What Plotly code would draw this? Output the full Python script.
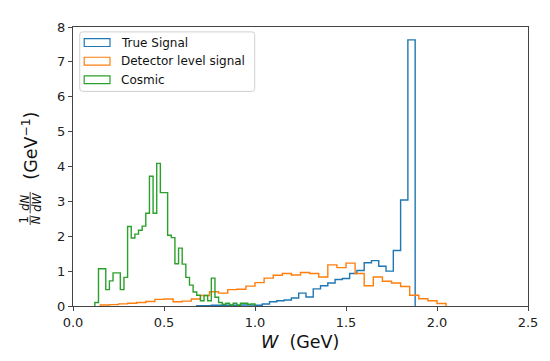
import numpy as np
import plotly.graph_objects as go

# ---------------- data ----------------
series_names = ["True Signal", "Detector level signal", "Cosmic"]
series_colors = ["#1f77b4", "#ff7f0e", "#2ca02c"]

# True signal: 30 bins of width 0.04 starting at 0.68 GeV
true_start, true_width = 0.68, 0.04
true_vals = [0.01, 0.01, 0.02, 0.02, 0.02, 0.02, 0.03, 0.03, 0.02, 0.056,
             0.12, 0.15, 0.17, 0.23, 0.37, 0.26, 0.49, 0.58, 0.66, 0.76,
             0.79, 0.93, 1.02, 1.24, 1.30, 1.14, 1.00, 1.59, 3.04, 7.63]

# Detector level signal: 38 bins of width 0.05 starting at 0.15 GeV
det_start, det_width = 0.15, 0.05
det_vals = [0.03, 0.04, 0.06, 0.08, 0.10, 0.13, 0.19, 0.20, 0.12, 0.14,
            0.20, 0.30, 0.41, 0.37, 0.47, 0.48, 0.57, 0.67, 0.80, 0.88,
            0.93, 0.89, 0.96, 0.93, 0.83, 1.18, 1.10, 1.23, 0.93, 0.58,
            0.83, 0.71, 0.66, 0.56, 0.31, 0.21, 0.15, 0.07]

# Cosmic: 44 bins of width 0.02 starting at 0.12 GeV
cos_start, cos_width = 0.12, 0.02
cos_vals = [0.10, 1.07, 1.07, 0.47, 0.72, 0.95, 0.95, 0.47, 0.82, 2.28,
            1.95, 2.06, 2.17, 2.29, 2.66, 3.72, 2.66, 4.09, 3.25, 3.25,
            2.03, 1.96, 1.21, 1.66, 1.20, 0.82, 0.60, 0.40, 0.31, 0.15,
            0.30, 0.15, 0.80, 0.25, 0.10, 0.05, 0.08, 0.03, 0.08, 0.02,
            0.08, 0.08, 0.05, 0.06]

x_ticks = [0.0, 0.5, 1.0, 1.5, 2.0, 2.5]
x_tick_labels = ["0.0", "0.5", "1.0", "1.5", "2.0", "2.5"]
y_ticks = [0, 1, 2, 3, 4, 5, 6, 7, 8]
y_tick_labels = [str(v) for v in y_ticks]


def step_xy(start, width, vals):
    n = len(vals)
    edges = start + width * np.arange(n + 1)
    xs = [edges[0]] + list(edges[:n]) + [edges[n]]
    ys = [0.0] + list(vals) + [0.0]
    return xs, ys


# ---------------- layout geometry ----------------
# The page body has an 8px margin, so the figure is placed at (8, 8).
OFF = 8
W_PX, H_PX = 550 - OFF, 361 - OFF
# plot area in page pixels: x 72.7..531.7, y 20..306
L = 72.7 - OFF
T = 20 - OFF
R = W_PX - (531.7 - OFF)
B = H_PX - (306 - OFF)
PW, PH = W_PX - L - R, H_PX - T - B


def px(xp):  # page x pixel -> paper
    return (xp - OFF - L) / PW


def py(yp):  # page y pixel -> paper
    return (H_PX - B - (yp - OFF)) / PH


FONT = "DejaVu Sans"

fig = go.Figure()
for (start, width, vals), name, col in zip(
        [(true_start, true_width, true_vals),
         (det_start, det_width, det_vals),
         (cos_start, cos_width, cos_vals)],
        series_names, series_colors):
    xs, ys = step_xy(start, width, vals)
    fig.add_trace(go.Scatter(x=xs, y=ys, mode="lines", name=name,
                             line=dict(color=col, width=1.4, shape="hv"),
                             showlegend=False, hoverinfo="skip"))

axis_common = dict(showline=True, linecolor="#444", linewidth=1, mirror=True,
                   ticks="outside", ticklen=4, tickwidth=1, tickcolor="#444",
                   showgrid=False, zeroline=False,
                   tickfont=dict(family=FONT, size=13, color="#222"))
fig.update_xaxes(range=[0, 2.5], tickvals=x_ticks, ticktext=x_tick_labels, **axis_common)
fig.update_yaxes(range=[0, 8], tickvals=y_ticks, ticktext=y_tick_labels, **axis_common)

shapes = []
annotations = []

# custom legend (matplotlib-like)
lx0, lx1, ly0, ly1 = 79.5, 256, 25, 86
r = 3
path = (f"M {px(lx0 + r)},{py(ly0)} L {px(lx1 - r)},{py(ly0)} "
        f"Q {px(lx1)},{py(ly0)} {px(lx1)},{py(ly0 + r)} "
        f"L {px(lx1)},{py(ly1 - r)} Q {px(lx1)},{py(ly1)} {px(lx1 - r)},{py(ly1)} "
        f"L {px(lx0 + r)},{py(ly1)} Q {px(lx0)},{py(ly1)} {px(lx0)},{py(ly1 - r)} "
        f"L {px(lx0)},{py(ly0 + r)} Q {px(lx0)},{py(ly0)} {px(lx0 + r)},{py(ly0)} Z")
shapes.append(dict(type="path", xref="paper", yref="paper", path=path,
                   line=dict(color="#d0d0d0", width=1),
                   fillcolor="rgba(255,255,255,0.85)", layer="above"))
rows = [36, 55, 74]
for yc, name, col in zip(rows, series_names, series_colors):
    shapes.append(dict(type="rect", xref="paper", yref="paper",
                       x0=px(84), x1=px(110), y0=py(yc - 4), y1=py(yc + 4),
                       line=dict(color=col, width=1.2), fillcolor="rgba(0,0,0,0)",
                       layer="above"))
    annotations.append(dict(xref="paper", yref="paper", x=px(119), y=py(yc),
                            xanchor="left", yanchor="middle", showarrow=False,
                            text=name, font=dict(family=FONT, size=12, color="#111")))

# x-axis title
annotations.append(dict(xref="paper", yref="paper", x=px(302), y=py(343),
                        xanchor="center", yanchor="middle", showarrow=False,
                        text="<i>W</i>  (GeV)",
                        font=dict(family=FONT, size=17.5, color="#111")))

# y-axis title: (1/N)(dN/dW) (GeV^-1), rotated
annotations.append(dict(xref="paper", yref="paper", x=px(29), y=py(142),
                        xanchor="center", yanchor="middle", showarrow=False,
                        textangle=-90, text="(GeV<sup>−1</sup>)",
                        font=dict(family=FONT, size=17.5, color="#111")))
frac_font = dict(family=FONT, size=11.5, color="#111")
for txt, xc, yc in [("1", 23.5, 218), ("<i>N</i>", 35.5, 218),
                    ("<i>dN</i>", 23.5, 200), ("<i>dW</i>", 35.5, 200)]:
    annotations.append(dict(xref="paper", yref="paper", x=px(xc), y=py(yc),
                            xanchor="center", yanchor="middle", showarrow=False,
                            textangle=-90, text=txt, font=frac_font))
for y0, y1 in [(213, 223), (189, 211)]:
    shapes.append(dict(type="line", xref="paper", yref="paper",
                       x0=px(29.5), x1=px(29.5), y0=py(y0), y1=py(y1),
                       line=dict(color="#111", width=0.8)))

fig.update_layout(width=W_PX, height=H_PX,
                  margin=dict(l=L, r=R, t=T, b=B, pad=0),
                  paper_bgcolor="white", plot_bgcolor="white",
                  shapes=shapes, annotations=annotations,
                  font=dict(family=FONT))

fig.write_html("out.html")
